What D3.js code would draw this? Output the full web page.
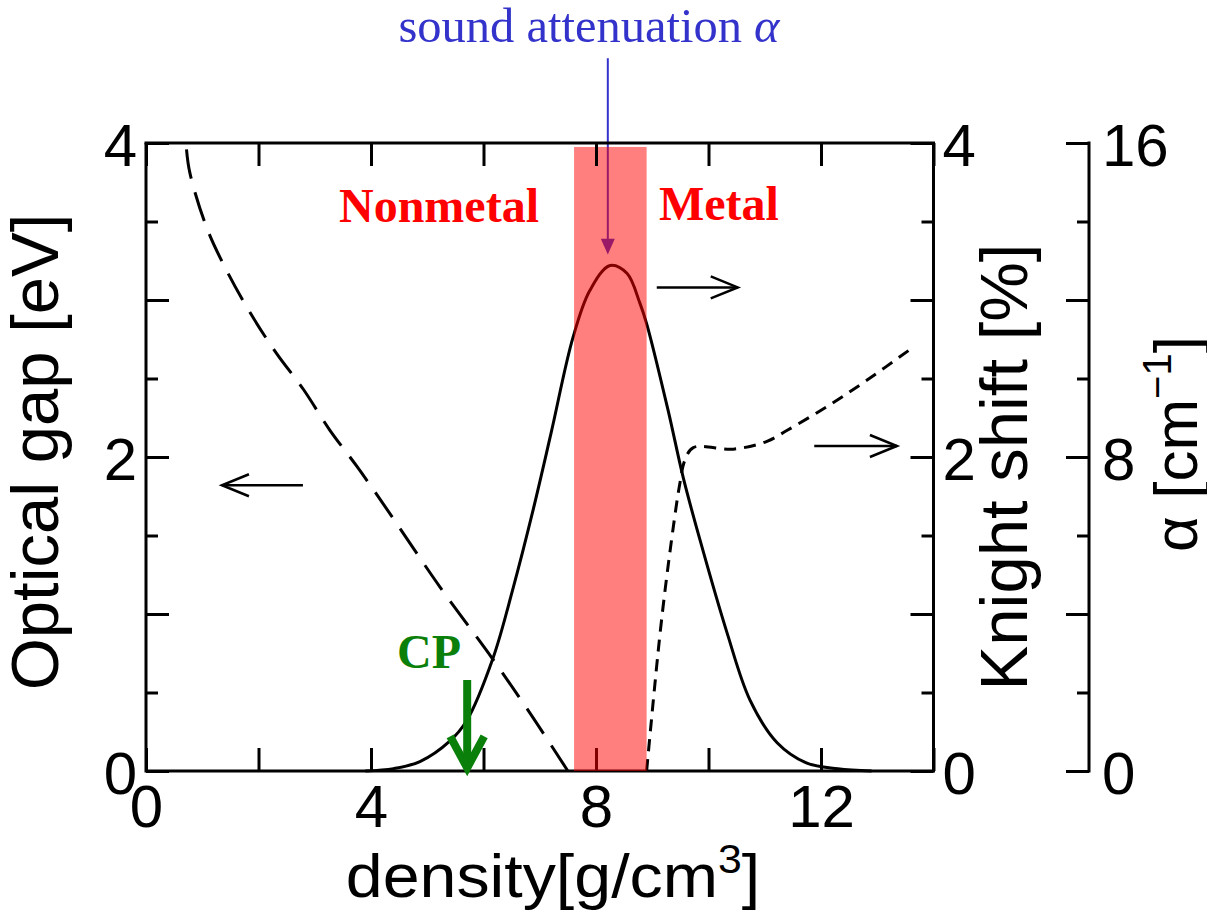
<!DOCTYPE html>
<html>
<head>
<meta charset="utf-8">
<title>Optical gap and Knight shift vs density</title>
<script src="https://cdn.jsdelivr.net/npm/d3@7"></script>
<style>
  body { margin: 0; background: #fff; }
  svg text { font-family: "Liberation Sans", Arial, Helvetica, sans-serif; }
  svg text.serif { font-family: "Liberation Serif", "Times New Roman", serif; }
</style>
</head>
<body>
<svg id="chart" width="1207" height="922"></svg>
<script>
// optical gap [eV] (dashed, left axis)
const gapDensity = [0.72, 0.78, 1.08, 1.43, 1.85, 2.32, 2.8, 3.27, 3.75, 4.22, 5.23, 6.17, 6.88, 7.5];
const gapValue   = [3.96, 3.81, 3.46, 3.19, 2.92, 2.66, 2.43, 2.17, 1.94, 1.70, 1.17, 0.71, 0.34, 0];

// Knight shift [%] (solid, right axis)
const knightDensity = [3.9, 4.4, 4.87, 5.4, 5.7, 6.17, 6.53, 6.88, 7.2, 7.59, 7.89, 8.25, 8.55, 8.78, 8.9, 9.28, 9.55, 9.85, 10.33, 10.74, 11.22, 11.75, 12.3, 12.9];
const knightValue   = [0, 0.015, 0.06, 0.19, 0.32, 0.72, 1.17, 1.66, 2.15, 2.76, 3.06, 3.22, 3.17, 2.98, 2.85, 2.30, 1.87, 1.47, 0.88, 0.45, 0.18, 0.05, 0.015, 0];

// short-dashed curve (right axis)
const dottedDensity = [8.9, 9.14, 9.32, 9.49, 9.58, 9.73, 10.44, 11.04, 11.4, 12.1, 12.82, 13.64];
const dottedValue   = [0, 0.88, 1.41, 1.83, 1.98, 2.06, 2.05, 2.10, 2.17, 2.32, 2.49, 2.70];

// ticks
const xTicks = [0, 2, 4, 6, 8, 10, 12, 14];
const xLabels = [0, 4, 8, 12];
const yMajor = [0, 1, 2, 3, 4];
const yMinor = [0.5, 1.5, 2.5, 3.5];
const yLabels = [0, 2, 4];
const alphaMajor = [0, 4, 8, 12, 16];
const alphaMinor = [2, 6, 10, 14];
const alphaLabels = [0, 8, 16];

// annotations (data units)
const metalBand = [7.61, 8.9];
const cpDensity = 5.71;
const soundDensity = 8.21;

const svg = d3.select("#chart");
const W = 1207, H = 922;
svg.append("rect").attr("width", W).attr("height", H).attr("fill", "#fff");

const plotL = 146, plotR = 933.5, plotT = 143, plotB = 771, alphaX = 1089;

const x = d3.scaleLinear().domain([0, 14]).range([plotL, plotR]);
const yL = d3.scaleLinear().domain([0, 4]).range([plotB, plotT]);
const yK = d3.scaleLinear().domain([0, 4]).range([plotB, plotT]);
const yA = d3.scaleLinear().domain([0, 16]).range([plotB, plotT]);

const tickFs = 60;

function styleAxis(g) {
    g.select(".domain").remove();
    g.selectAll("line").attr("stroke", "#000").attr("stroke-width", 3);
    g.selectAll("text").attr("font-size", tickFs).attr("fill", "#000");
}

// curves
const pairs = (a, b) => a.map((d, i) => [d, b[i]]);
const smooth = d3.curveCatmullRom.alpha(0.5);

svg.append("path")
    .datum(pairs(gapDensity, gapValue))
    .attr("fill", "none").attr("stroke", "#000").attr("stroke-width", 3)
    .attr("stroke-dasharray", "30,14")
    .attr("d", d3.line().x(d => x(d[0])).y(d => yL(d[1])).curve(smooth));

svg.append("path")
    .datum(pairs(knightDensity, knightValue))
    .attr("fill", "none").attr("stroke", "#000").attr("stroke-width", 3)
    .attr("d", d3.line().x(d => x(d[0])).y(d => yK(d[1])).curve(smooth));

svg.append("path")
    .datum(pairs(dottedDensity, dottedValue))
    .attr("fill", "none").attr("stroke", "#000").attr("stroke-width", 3)
    .attr("stroke-dasharray", "12,8")
    .attr("d", d3.line().x(d => x(d[0])).y(d => yK(d[1])).curve(smooth));

// bottom ticks (inward) and labels
svg.append("g").attr("transform", `translate(0,${plotB})`)
    .call(d3.axisBottom(x).tickValues(xTicks).tickSize(-23).tickSizeOuter(0).tickFormat(""))
    .call(styleAxis);
svg.append("g").attr("transform", `translate(0,${plotB})`)
    .call(d3.axisBottom(x).tickValues(xLabels).tickSize(0).tickPadding(13).tickFormat(d3.format("d")))
    .call(styleAxis);

// left axis
svg.append("g").attr("transform", `translate(${plotL},0)`)
    .call(d3.axisLeft(yL).tickValues(yMajor).tickSize(-23).tickFormat(""))
    .call(styleAxis);
svg.append("g").attr("transform", `translate(${plotL},0)`)
    .call(d3.axisLeft(yL).tickValues(yMinor).tickSize(-12).tickFormat(""))
    .call(styleAxis);
svg.append("g").attr("transform", `translate(${plotL},0)`)
    .call(d3.axisLeft(yL).tickValues(yLabels).tickSize(0).tickPadding(9).tickFormat(d3.format("d")))
    .call(styleAxis)
    .selectAll("text").attr("dy", "0.38em");

// right (Knight) axis
svg.append("g").attr("transform", `translate(${plotR},0)`)
    .call(d3.axisRight(yK).tickValues(yMajor).tickSize(-23).tickFormat(""))
    .call(styleAxis);
svg.append("g").attr("transform", `translate(${plotR},0)`)
    .call(d3.axisRight(yK).tickValues(yMinor).tickSize(-12).tickFormat(""))
    .call(styleAxis);
svg.append("g").attr("transform", `translate(${plotR},0)`)
    .call(d3.axisRight(yK).tickValues(yLabels).tickSize(0).tickPadding(9).tickFormat(d3.format("d")))
    .call(styleAxis)
    .selectAll("text").attr("dy", "0.38em");

// alpha axis
svg.append("line")
    .attr("x1", alphaX).attr("x2", alphaX).attr("y1", yA(16) - 1.5).attr("y2", yA(0) + 1.5)
    .attr("stroke", "#000").attr("stroke-width", 3);
svg.append("g").attr("transform", `translate(${alphaX},0)`)
    .call(d3.axisRight(yA).tickValues(alphaMajor).tickSize(-23).tickFormat(""))
    .call(styleAxis);
svg.append("g").attr("transform", `translate(${alphaX},0)`)
    .call(d3.axisRight(yA).tickValues(alphaMinor).tickSize(-12).tickFormat(""))
    .call(styleAxis);
svg.append("g").attr("transform", `translate(${alphaX},0)`)
    .call(d3.axisRight(yA).tickValues(alphaLabels).tickSize(0).tickPadding(13).tickFormat(d3.format("d")))
    .call(styleAxis)
    .selectAll("text").attr("dy", "0.38em");

// frame (left, bottom, right)
svg.append("path")
    .attr("d", `M${plotL},${plotT}V${plotB}H${plotR}V${plotT}`)
    .attr("fill", "none").attr("stroke", "#000").attr("stroke-width", 3);

// blue "sound attenuation" arrow (drawn under the band)
svg.append("line")
    .attr("x1", x(soundDensity)).attr("x2", x(soundDensity))
    .attr("y1", yL(4.54)).attr("y2", yL(3.36))
    .attr("stroke", "#3333cc").attr("stroke-width", 2);
svg.append("path")
    .attr("d", `M${x(soundDensity) - 7},${yL(3.39)}L${x(soundDensity) + 7},${yL(3.39)}L${x(soundDensity)},${yL(3.29)}Z`)
    .attr("fill", "#3333cc");

// metal band
svg.append("rect")
    .attr("x", x(metalBand[0])).attr("width", x(metalBand[1]) - x(metalBand[0]))
    .attr("y", yL(3.975)).attr("height", yL(0) - yL(3.975))
    .attr("fill", "#ff0000").attr("fill-opacity", 0.5);

// top axis ticks drawn above band
svg.append("g").attr("transform", `translate(0,${plotT})`)
    .call(d3.axisTop(x).tickValues(xTicks).tickSize(-23).tickSizeOuter(0).tickFormat(""))
    .call(styleAxis);
svg.append("line")
    .attr("x1", plotL - 1.5).attr("x2", plotR + 1.5).attr("y1", plotT).attr("y2", plotT)
    .attr("stroke", "#000").attr("stroke-width", 3);

// black direction arrows
function arrow(x1, x2, yv, scale) {
    const y0 = scale(yv);
    svg.append("line").attr("x1", x(x1)).attr("x2", x(x2)).attr("y1", y0).attr("y2", y0)
        .attr("stroke", "#000").attr("stroke-width", 2.5);
    const tip = x(x2), dir = x2 > x1 ? -1 : 1;
    svg.append("path")
        .attr("d", `M${tip + dir * 27},${y0 - 11}L${tip},${y0}L${tip + dir * 27},${y0 + 11}`)
        .attr("fill", "none").attr("stroke", "#000").attr("stroke-width", 2.5);
}
arrow(2.79, 1.35, 1.82, yL);
arrow(9.08, 10.52, 3.08, yK);
arrow(11.88, 13.35, 2.07, yK);

// CP arrow
svg.append("line")
    .attr("x1", x(cpDensity)).attr("x2", x(cpDensity))
    .attr("y1", yL(0.58)).attr("y2", yL(0.04))
    .attr("stroke", "#0a800a").attr("stroke-width", 8);
svg.append("path")
    .attr("d", `M${x(cpDensity) - 17},${yL(0.22)}L${x(cpDensity)},${yL(0.02)}L${x(cpDensity) + 17},${yL(0.22)}`)
    .attr("fill", "none").attr("stroke", "#0a800a").attr("stroke-width", 8);

// annotation texts
svg.append("text").attr("class", "serif")
    .attr("x", 397).attr("y", 668)
    .attr("font-size", 48).attr("font-weight", "bold").attr("fill", "#0a800a")
    .text("CP");
svg.append("text").attr("class", "serif")
    .attr("x", 339).attr("y", 222)
    .attr("font-size", 48).attr("font-weight", "bold").attr("fill", "#ff0000")
    .text("Nonmetal");
svg.append("text").attr("class", "serif")
    .attr("x", 659).attr("y", 220)
    .attr("font-size", 48).attr("font-weight", "bold").attr("fill", "#ff0000")
    .text("Metal");
const snd = svg.append("text").attr("class", "serif")
    .attr("x", 589).attr("y", 42).attr("text-anchor", "middle")
    .attr("font-size", 48.5).attr("fill", "#3333cc");
snd.append("tspan").text("sound attenuation ");
snd.append("tspan").attr("font-style", "italic").text("α");

// axis titles
svg.append("text")
    .attr("transform", "translate(553,897) scale(1.07,1)")
    .attr("text-anchor", "middle")
    .attr("font-size", 62)
    .call(t => {
        t.append("tspan").text("density[g/cm");
        t.append("tspan").attr("font-size", 40).attr("dy", -24).text("3");
        t.append("tspan").attr("dy", 24).text("]");
    });

svg.append("text")
    .attr("transform", `translate(58,452) rotate(-90)`)
    .attr("text-anchor", "middle").attr("font-size", 67)
    .text("Optical gap [eV]");

svg.append("text")
    .attr("transform", `translate(1027,467) rotate(-90)`)
    .attr("text-anchor", "middle").attr("font-size", 67)
    .text("Knight shift [%]");

svg.append("text")
    .attr("transform", `translate(1197,444) rotate(-90)`)
    .attr("text-anchor", "middle").attr("font-size", 62)
    .call(t => {
        t.append("tspan").text("α [cm");
        t.append("tspan").attr("font-size", 40).attr("dy", -26).text("−1");
        t.append("tspan").attr("dy", 26).text("]");
    });
</script>
</body>
</html>
